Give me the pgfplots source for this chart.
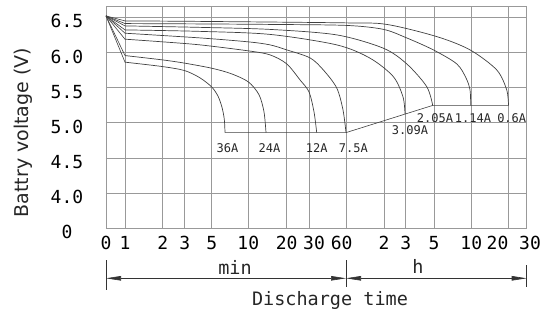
\documentclass[border=0pt]{standalone}
\usepackage{pgfplots}
\pgfplotsset{compat=1.18}
\usepackage{fontspec}
\setmainfont{DejaVu Sans Mono}
\newfontfamily\propfont{DejaVu Sans}
\usetikzlibrary{arrows.meta}
\tikzset{lbl/.style={font=\fontsize{12}{12}\selectfont, text=black!85, inner sep=0pt}}
\pgfplotsset{
  curve/.style={black!75, line width=0.7pt, smooth, tension=0.5},
  fan/.style={black!75, line width=0.6pt},
}
\begin{document}
\begin{tikzpicture}
\path[use as bounding box] (-106pt,-85.7pt) rectangle (451pt,228.3pt);
\begin{axis}[
  at={(0pt,0pt)}, anchor=south west,
  scale only axis, width=420.7pt, height=221.6pt,
  xmin=0, xmax=420.7, ymin=3.5, ymax=6.652,
  xtick={0,19,56.7,78.7,105.7,142.3,180.7,203,240,278,299.7,328,365.3,402.7,420.7},
  xticklabels={0,1,2,3,5,10,20,\hspace*{10pt}30,60\hspace*{8.6pt},2,3,5,10,20\hspace*{22.4pt},\hspace*{6.6pt}30},
  ytick={3.5,4,4.5,5,5.5,6,6.5},
  yticklabels={0,4.0,4.5,5.0,5.5,6.0,6.5},
  grid=major,
  major grid style={black!40, line width=0.8pt},
  axis line style={black!40, line width=0.8pt},
  major tick length=0pt,
  xticklabel style={font=\fontsize{18}{18}\selectfont, anchor=center, yshift=-14.7pt},
  yticklabel style={font=\fontsize{18}{18}\selectfont, anchor=center, xshift=-39pt, yshift=-4pt},
  clip=false,
]
% fan lines from start point to 1 min
\addplot[fan] coordinates {(0,6.521) (19,5.863)};
\addplot[fan] coordinates {(0,6.521) (19,5.957)};
\addplot[fan] coordinates {(0,6.521) (19,6.190)};
\addplot[fan] coordinates {(0,6.521) (19,6.275)};
\addplot[fan] coordinates {(0,6.521) (19,6.322)};
\addplot[fan] coordinates {(0,6.521) (19,6.379)};
\addplot[fan] coordinates {(0,6.521) (19,6.412)};
\addplot[fan] coordinates {(0,6.521) (19,6.450)};
% 36A
\addplot[curve] coordinates {(19,5.863) (56.7,5.800) (78.7,5.743) (94,5.640) (105.7,5.510) (112,5.380) (116,5.220) (118.3,5.050) (119,4.861)};
% 24A
\addplot[curve] coordinates {(19,5.957) (56.7,5.895) (78.7,5.849) (105.7,5.777) (125,5.70) (142.3,5.583) (153,5.400) (158,5.156) (160,4.861)};
% 12A
\addplot[curve] coordinates {(19,6.190) (56.7,6.152) (94,6.109) (142.3,6.024) (164,5.967) (180.7,5.839) (194,5.611) (203,5.440) (208,5.156) (210.7,4.861)};
% 7.5A
\addplot[curve] coordinates {(19,6.275) (94,6.208) (142.3,6.152) (164,6.109) (180.7,6.038) (204,5.924) (217.3,5.753) (230.7,5.497) (237,5.184) (240,4.861)};
% 3.09A
\addplot[curve] coordinates {(19,6.322) (94,6.301) (164,6.258) (230.7,6.109) (264,5.920) (287.3,5.658) (297,5.369) (299,5.127)};
% 2.05A
\addplot[curve] coordinates {(19,6.379) (94,6.358) (164,6.329) (230.7,6.251) (277.3,6.062) (300.7,5.839) (320.7,5.516) (326.7,5.248)};
% 1.14A
\addplot[curve] coordinates {(19,6.412) (94,6.407) (164,6.400) (240,6.386) (277.3,6.330) (300.7,6.208) (327.3,6.038) (350.7,5.839) (360,5.639) (364,5.469) (364.7,5.248)};
% 0.6A
\addplot[curve] coordinates {(19,6.450) (94,6.443) (240,6.422) (280.7,6.400) (330.7,6.227) (364,6.038) (390.7,5.753) (400.7,5.469) (402.5,5.248)};
% end-voltage leader lines
\addplot[fan] coordinates {(119,4.861) (240,4.861) (326.7,5.248) (402.5,5.248)};
% curve labels
\node[lbl] at (axis cs:121.5,4.642) {36A};
\node[lbl] at (axis cs:163.5,4.642) {24A};
\node[lbl] at (axis cs:210.7,4.642) {12A};
\node[lbl] at (axis cs:247.3,4.642) {7.5A};
\node[lbl] at (axis cs:304,4.898) {3.09A};
\node[lbl] at (axis cs:329,5.062) {2.05A};
\node[lbl] at (axis cs:367,5.062) {1.14A};
\node[lbl] at (axis cs:405.7,5.062) {0.6A};
\end{axis}
% dimension lines below the axis
\begin{scope}[black!80, line width=0.6pt]
\draw (0pt,-31.7pt) -- (0pt,-61.7pt);
\draw (240pt,-31.7pt) -- (240pt,-58.4pt);
\draw (420.7pt,-36.7pt) -- (420.7pt,-58.4pt);
\draw[{Triangle[length=15pt,width=4.5pt]}-{Triangle[length=15pt,width=4.5pt]}] (0pt,-50pt) -- (240pt,-50pt);
\draw[{Triangle[length=15pt,width=4.5pt]}-{Triangle[length=15pt,width=4.5pt]}] (240pt,-50pt) -- (420.7pt,-50pt);
\end{scope}
\node[font=\fontsize{18.5}{18.5}\selectfont, text=black!85] at (129pt,-39pt) {min};
\node[font=\fontsize{18.5}{18.5}\selectfont, text=black!85] at (312pt,-38.4pt) {h};
\node[font=\fontsize{18.5}{18.5}\selectfont, text=black!85] at (224pt,-71.7pt) {Discharge time};
\node[rotate=90, font=\propfont\fontsize{19}{19}\selectfont, text=black!85] at (-83pt,95.8pt) {Battry voltage (V)};
\end{tikzpicture}
\end{document}
